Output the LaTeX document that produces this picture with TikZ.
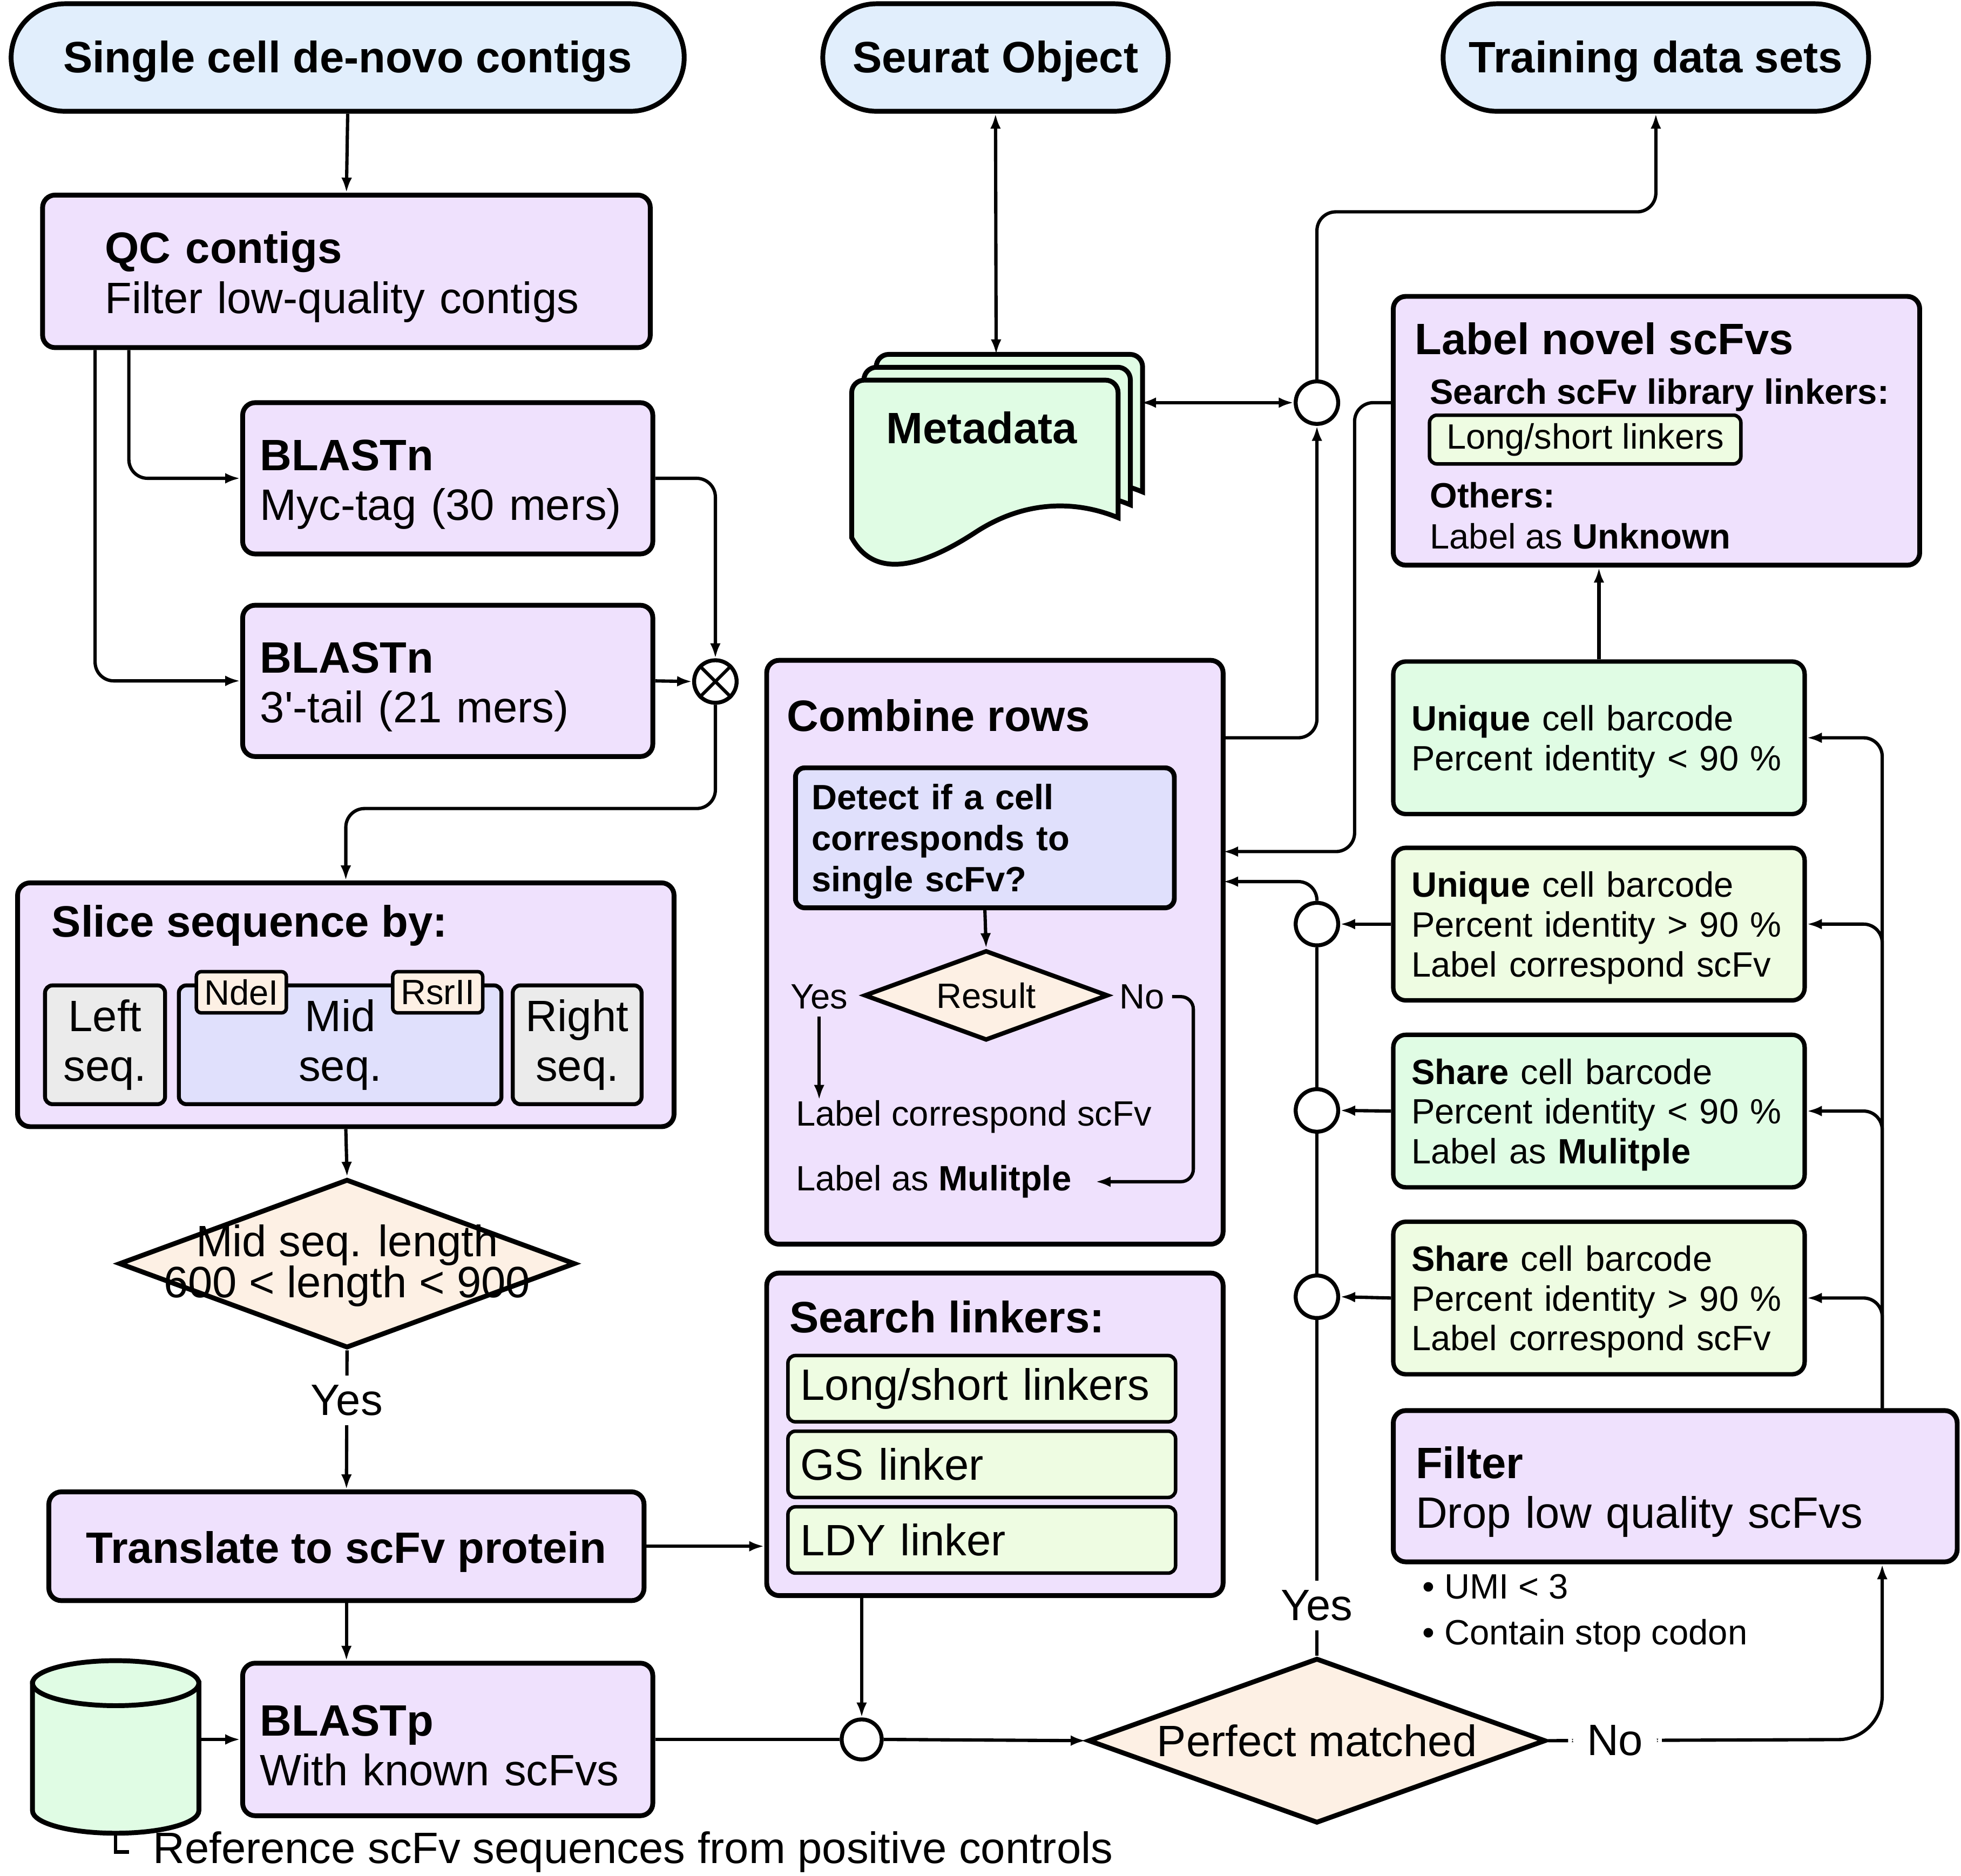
\documentclass[tikz,border=0pt]{standalone}
\usepackage{fontspec}
\setmainfont{Liberation Sans}
\usetikzlibrary{shapes,arrows,positioning,calc,arrows.meta}

\definecolor{pillblue}{RGB}{225,238,252}
\definecolor{lav}{RGB}{239,225,253}
\definecolor{mint}{RGB}{224,252,228}
\definecolor{lime}{RGB}{238,252,226}
\definecolor{peach}{RGB}{253,240,228}
\definecolor{greybox}{RGB}{235,235,235}
\definecolor{bluelav}{RGB}{224,224,252}

\newcommand{\fbig}{\fontsize{20}{22.7}\selectfont}
\newcommand{\fsm}{\fontsize{16}{18.1}\selectfont}

\begin{document}
\begin{tikzpicture}[x=0.02cm, y=-0.02cm, >={Latex[length=0.24cm,width=0.17cm]},
    pill/.style={draw, rounded rectangle, fill=pillblue, line width=2.2pt, minimum height=1.72cm, font=\fbig\bfseries, execute at begin node={\rule{0pt}{18pt}}},
    proc/.style={draw, rectangle, rounded corners=0.2cm, fill=lav, line width=2.2pt, align=left, font=\fbig, execute at begin node={\rule{0pt}{19.5pt}}},
    gbox/.style={draw, rectangle, rounded corners=0.2cm, line width=2pt, minimum height=2.44cm, text width=6cm, inner xsep=0.29cm, align=left, font=\fsm, execute at begin node={\rule{0pt}{15pt}}},
    seg/.style={draw, rounded corners=0.12cm, line width=1.8pt, minimum height=1.9cm, align=center, font=\fbig, inner sep=0},
    tag/.style={draw, fill=peach, rounded corners=0.08cm, line width=1.6pt, minimum width=1.44cm, minimum height=0.66cm, font=\fsm, inner sep=0},
    lk/.style={draw, fill=lime, rounded corners=0.12cm, line width=1.6pt, text width=5.8cm, inner xsep=0.2cm, inner ysep=0, minimum height=1.06cm, align=left, font=\fbig},
    junc/.style={draw, circle, fill=white, line width=1.8pt, minimum size=0.68cm, inner sep=0},
    lbl/.style={fill=white, inner xsep=0.3cm, inner ysep=0.15cm, font=\fbig},
    conn/.style={line width=1.5pt},
    arr/.style={conn, ->}]
    \useasboundingbox (0,0) rectangle (1568,1500);

    % inputs and outputs
    \node[pill, minimum width=11cm] (src) at (278,46) {Single cell de-novo contigs};
    \node[pill, minimum width=5.76cm] (seurat) at (796,46) {Seurat Object};
    \node[pill, minimum width=7.04cm] (train) at (1324,46) {Training data sets};

    % left column
    \node[proc, minimum height=2.44cm, text width=7.72cm, inner xsep=1cm] (qc) at (277,217) {\textbf{QC contigs}\\Filter low-quality contigs};
    \node[proc, minimum height=2.42cm, text width=6cm, inner xsep=0.28cm] (bl1) at (358,382.5) {\textbf{BLASTn}\\Myc-tag (30 mers)};
    \node[proc, minimum height=2.42cm, text width=6cm, inner xsep=0.28cm] (bl2) at (358,544.5) {\textbf{BLASTn}\\3\textquotesingle-tail (21 mers)};
    \node[junc] (ot) at (572,545) {};
    \draw[line width=1.5pt] (ot.north west) -- (ot.south east) (ot.north east) -- (ot.south west);

    \node[proc, minimum width=10.5cm, minimum height=3.9cm] (slice) at (276.5,803.5) {};
    \node[anchor=west, inner sep=0, font=\fbig\bfseries] (slicet) at (41,740) {Slice sequence by:};
    \node[seg, fill=greybox, minimum width=1.92cm] (lseq) at (84,835.5) {Left\\seq.};
    \node[seg, fill=bluelav, minimum width=5.16cm] (mseq) at (272,835.5) {Mid\\seq.};
    \node[seg, fill=greybox, minimum width=2.06cm] (rseq) at (461.5,835.5) {Right\\seq.};
    \node[tag] (ndel) at (193,793.5) {NdeI};
    \node[tag] (rsr) at (350,793.5) {RsrII};

    \node[draw, diamond, fill=peach, line width=2.2pt, minimum width=7.3cm, minimum height=2.7cm, inner sep=0] (mlen) at (277.5,1010.5) {};
    \node[align=center, inner sep=0, font=\fontsize{20}{18.7}\selectfont] (mlent) at (277.5,1012) {Mid seq. length\\600 < length < 900};

    \node[proc, minimum width=9.52cm, minimum height=1.74cm, align=center, font=\fbig\bfseries] (tr) at (277,1236.5) {Translate to scFv protein};
    \node[proc, minimum height=2.44cm, text width=6cm, inner xsep=0.28cm] (blp) at (358,1391) {\textbf{BLASTp}\\With known scFvs};
    % database of reference scFvs
    \draw[line width=2.2pt, fill=mint] (26,1346) -- (26,1448) arc[start angle=180, end angle=0, x radius=66.5, y radius=18] -- (159,1346) -- cycle;
    \draw[line width=2.2pt, fill=mint] (92.5,1346) ellipse [x radius=66.5, y radius=18];
    \node[minimum width=2.66cm, minimum height=2.76cm, inner sep=0] (db) at (92.5,1397) {};
    \node[anchor=west, inner xsep=0.38cm, inner ysep=0, font=\fbig] (reft) at (103,1481) {Reference scFv sequences from positive controls};

    % middle column
    \foreach \k in {2,1,0}
        \draw[shift={(9.8*\k,-10.3*\k)}, line width=2.2pt, fill=mint]
            (681,430) [rounded corners=0.2cm] -- (681,304) -- (894,304) -- (894,360) [sharp corners] -- (894,414)
            .. controls (860,400) and (820,400) .. (781,425) .. controls (740,452) and (700,465) .. (681,430) -- cycle;
    \node[minimum width=4.62cm, minimum height=3.37cm, inner sep=0] (meta) at (796.5,368) {};
    \node[font=\fbig\bfseries] (metat) at (785,342) {Metadata};

    \node[proc, minimum width=7.3cm, minimum height=9.34cm] (comb) at (795.5,761.5) {};
    \node[anchor=west, inner sep=0, font=\fbig\bfseries] (combt) at (629,572) {Combine rows};
    \node[draw, fill=bluelav, rounded corners=0.15cm, line width=2.2pt, minimum height=2.24cm, text width=5.54cm, inner xsep=0.26cm, align=left, font=\fontsize{16}{18.7}\selectfont\bfseries] (det) at (787.5,670) {\rule{0pt}{15pt}Detect if a cell\\corresponds to\\single scFv?};
    \node[draw, diamond, aspect=2.7, fill=peach, line width=2pt, minimum width=3.9cm, minimum height=1.44cm, inner sep=0, font=\fsm] (res) at (788.5,796) {Result};
    \node[font=\fsm] (ry) at (655,797) {Yes};
    \node[font=\fsm] (rn) at (913,797) {No};
    \node[anchor=west, inner sep=0, font=\fsm] (lc) at (636,893) {Label correspond scFv};
    \node[anchor=west, inner sep=0, font=\fsm] (lm) at (636,945) {Label as \textbf{Mulitple}};

    \node[proc, minimum width=7.3cm, minimum height=5.16cm] (srch) at (795.5,1147) {};
    \node[anchor=west, inner sep=0, font=\fbig\bfseries] (srcht) at (631,1053) {Search linkers:};
    \node[lk] (lk1) at (785,1110.5) {Long/short linkers};
    \node[lk] (lk2) at (785,1171) {GS linker};
    \node[lk] (lk3) at (785,1231.5) {LDY linker};

    \node[junc, minimum size=0.64cm] (jb) at (689,1391) {};
    \node[draw, diamond, aspect=2.77, fill=peach, line width=2.2pt, minimum width=7.32cm, minimum height=2.64cm, inner sep=0, font=\fbig] (pm) at (1053,1392) {Perfect matched};

    % right column
    \node[proc, minimum width=8.42cm, minimum height=4.3cm] (lnov) at (1324.5,344.5) {};
    \node[anchor=west, inner sep=0, font=\fbig\bfseries] (lnovt) at (1131,271) {Label novel scFvs};
    \node[anchor=west, inner sep=0, font=\fsm\bfseries] (lnovs) at (1143,316) {Search scFv library linkers:};
    \node[draw, fill=lime, rounded corners=0.12cm, line width=1.6pt, minimum width=4.98cm, minimum height=0.78cm, inner sep=0, font=\fsm] (lnk) at (1267.5,351.5) {Long/short linkers};
    \node[anchor=west, inner sep=0, align=left, font=\fontsize{16}{18.7}\selectfont] (lnovo) at (1143,412.5) {\textbf{Others:}\\Label as \textbf{Unknown}};

    \node[gbox, fill=mint] (u1) at (1278.5,590) {\textbf{Unique} cell barcode\\Percent identity < 90 \%};
    \node[gbox, fill=lime] (u2) at (1278.5,739) {\textbf{Unique} cell barcode\\Percent identity > 90 \%\\Label correspond scFv};
    \node[gbox, fill=mint] (s1) at (1278.5,888.5) {\textbf{Share} cell barcode\\Percent identity < 90 \%\\Label as \textbf{Mulitple}};
    \node[gbox, fill=lime] (s2) at (1278.5,1038) {\textbf{Share} cell barcode\\Percent identity > 90 \%\\Label correspond scFv};

    \node[proc, minimum height=2.42cm, text width=8.3cm, inner xsep=0.36cm] (filt) at (1339.5,1188.5) {\textbf{Filter}\\Drop low quality scFvs};
    \node[anchor=west, inner sep=0, align=left, font=\fontsize{16}{21}\selectfont] (bul) at (1137,1290) {• UMI < 3\\• Contain stop codon};

    \node[junc] (cm) at (1053,322) {};
    \node[junc] (c1) at (1053,739) {};
    \node[junc] (c2) at (1053,888) {};
    \node[junc] (c3) at (1053,1037) {};

    % connectors
    \draw[arr] (src.south) -- (qc.north);
    \draw[arr, rounded corners=0.3cm] ([xshift=-3.48cm]qc.south) |- (bl1.west);
    \draw[arr, rounded corners=0.3cm] ([xshift=-4.02cm]qc.south) |- (bl2.west);
    \draw[arr, rounded corners=0.3cm] (bl1.east) -| (ot.north);
    \draw[arr] (bl2.east) -- (ot.west);
    \draw[arr, rounded corners=0.3cm] (ot.south) -- ++(0,83) -| (slice.north);
    \draw[arr] (slice.south) -- (mlen.north);
    \draw[arr] (mlen.south) -- node[lbl, pos=0.36] {Yes} (tr.north);
    \draw[arr] (tr.east) -- (tr.east -| srch.west);
    \draw[arr] (tr.south) -- (tr.south |- blp.north);
    \draw[arr] (db.east |- blp.west) -- (blp.west);
    \draw[conn] (db.south) |- (reft.west);
    \draw[conn] (blp.east) -- (jb.west);
    \draw[arr] (jb.north |- srch.south) -- (jb.north);
    \draw[arr] (jb.east) -- (pm.west);

    \coordinate (trunk) at (1505,1391);
    \draw[arr, rounded corners=0.7cm] (pm.east) -- node[lbl, pos=0.2] {No} (trunk) -- (trunk |- filt.south);
    \foreach \b in {u1,u2,s1,s2}
        \draw[arr, rounded corners=0.3cm] (trunk |- filt.north) |- (\b.east);
    \draw[arr] (u2.west) -- (c1.east);
    \draw[arr] (s1.west) -- (c2.east);
    \draw[arr] (s2.west) -- (c3.east);
    \draw[arr] (u1.north) -- (u1.north |- lnov.south);

    \draw[conn] (pm.north) -- node[lbl, pos=0.15] {Yes} (c3.south);
    \draw[conn] (c3.north) -- (c2.south);
    \draw[conn] (c2.north) -- (c1.south);
    \coordinate (inA) at (978,681);
    \coordinate (inB) at (978,705);
    \draw[arr, rounded corners=0.3cm] (c1.north) |- (inB);
    \draw[arr, rounded corners=0.3cm] (lnov.west |- cm.east) -- ++(-29,0) |- (inA);
    \draw[arr, rounded corners=0.3cm] (comb.east |- u1.west) -| (cm.south);
    \draw[arr, rounded corners=0.3cm] (cm.north) -- ++(0,-134) -| (train.south);
    \draw[conn, <->] (seurat.south) -- (meta.north);
    \draw[conn, <->] (meta.east |- cm.west) -- (cm.west);

    \draw[arr] (det.south) -- (res.north);
    \draw[arr] (ry.south) -- (ry.south |- lc.north);
    \draw[arr, rounded corners=0.2cm] (rn.east) -- ++(17,0) |- ([xshift=0.38cm]lm.east);
\end{tikzpicture}
\end{document}
